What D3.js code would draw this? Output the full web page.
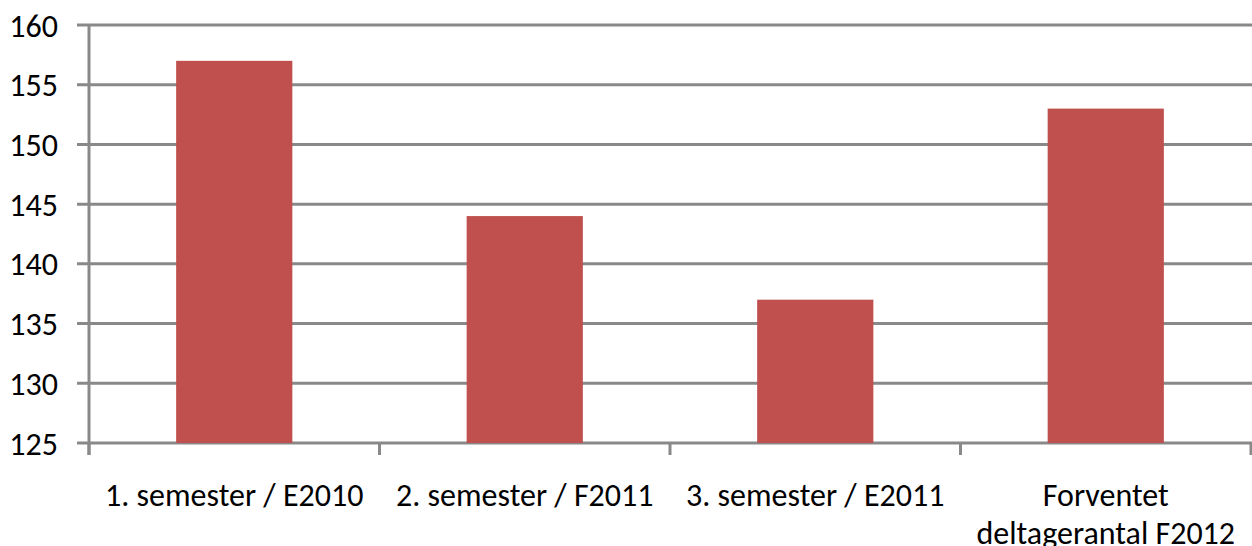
<!DOCTYPE html>
<html><head><meta charset="utf-8">
<script src="https://cdn.jsdelivr.net/npm/d3@7"></script>
<style>
html,body{margin:0;padding:0;background:#fff;}
text{font-family:Carlito,Lato,"Open Sans",sans-serif;fill:#000;}
</style></head>
<body>
<svg id="c" width="1252" height="546"></svg>
<script>
const categories = [["1. semester / E2010"], ["2. semester / F2011"], ["3. semester / E2011"], ["Forventet", "deltagerantal F2012"]];
const values = [157, 144, 137, 153];
const yTicks = [125, 130, 135, 140, 145, 150, 155, 160];

(function () {
const svg = d3.select("#c");
const mLeft = 89, mRight = 1251, mTop = 25, mBottom = 443;
const x = d3.scaleBand().domain(d3.range(categories.length)).range([mLeft, mRight]).paddingInner(0).paddingOuter(0);
const y = d3.scaleLinear().domain([125, 160]).range([mBottom, mTop]);
const grid = "#898989";

// gridlines
svg.append("g").selectAll("line").data(yTicks).join("line")
  .attr("x1", mLeft - 12).attr("x2", mRight + 1)
  .attr("y1", d => y(d)).attr("y2", d => y(d))
  .attr("stroke", grid).attr("stroke-width", 3);

// y tick labels
svg.append("g").selectAll("text").data(yTicks).join("text")
  .attr("x", 58).attr("y", d => y(d)).attr("dy", "0.36em")
  .attr("text-anchor", "end").attr("font-size", 32).text(d => d);

// bars
const bw = x.bandwidth() * 0.4;
svg.append("g").selectAll("rect").data(values).join("rect")
  .attr("x", (d, i) => x(i) + x.bandwidth() / 2 - bw / 2)
  .attr("width", bw)
  .attr("y", d => y(d))
  .attr("height", d => y(125) - y(d))
  .attr("fill", "#c0504d");

// y axis line
svg.append("line").attr("x1", mLeft).attr("x2", mLeft).attr("y1", mTop).attr("y2", mBottom + 12)
  .attr("stroke", grid).attr("stroke-width", 3);

// category ticks
const ct = d3.range(categories.length + 1).map(i => i < categories.length ? x(i) : mRight);
svg.append("g").selectAll("line").data(ct).join("line")
  .attr("x1", d => d).attr("x2", d => d).attr("y1", mBottom).attr("y2", mBottom + 12)
  .attr("stroke", grid).attr("stroke-width", 3);

// category labels
const lab = svg.append("g").selectAll("text").data(categories).join("text")
  .attr("x", (d, i) => x(i) + x.bandwidth() / 2)
  .attr("y", 506).attr("text-anchor", "middle").attr("font-size", 32);
lab.selectAll("tspan").data(d => d).join("tspan")
  .attr("x", function () { return this.parentNode.getAttribute("x"); })
  .attr("dy", (d, i) => i === 0 ? 0 : 38).text(d => d);
})();
</script>
</body></html>
